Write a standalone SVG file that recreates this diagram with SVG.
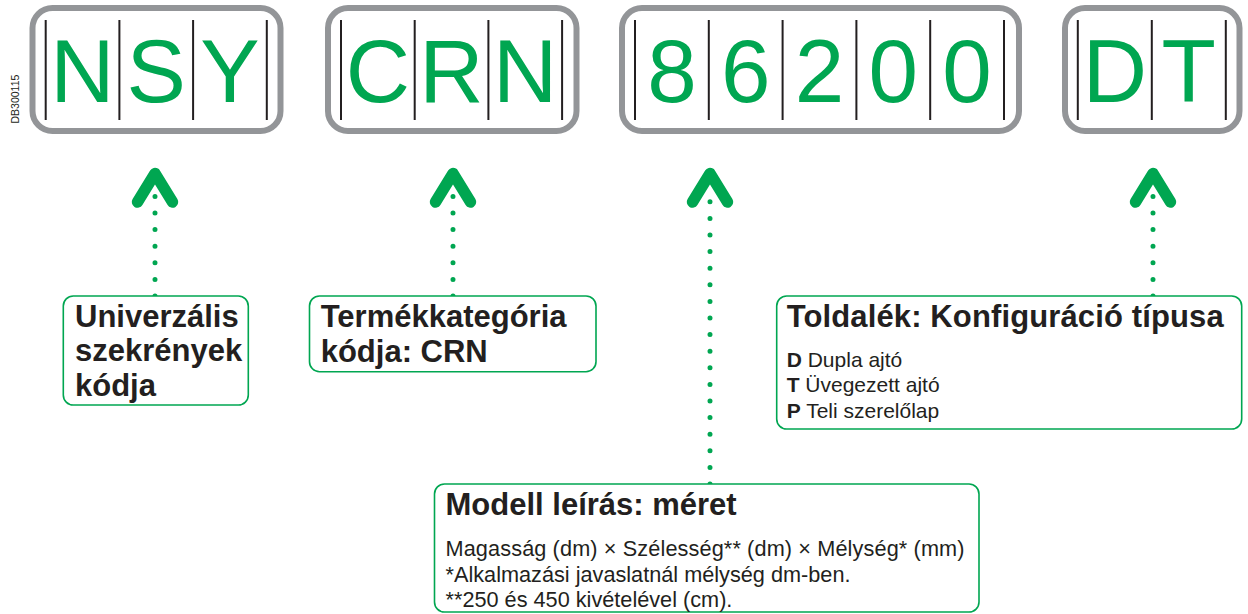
<svg xmlns="http://www.w3.org/2000/svg" width="1248" height="614" viewBox="0 0 1248 614">
<defs>
<style>
.frame{fill:none;stroke:#939598;stroke-width:6}
.sep{stroke:#231f20;stroke-width:2}
.big{font-family:"Liberation Sans",Arial,sans-serif;font-size:89px;fill:#00a651;text-anchor:middle}
.lbl{fill:#fff;stroke:#00a651;stroke-width:1.6}
.title{font-family:"Liberation Sans",Arial,sans-serif;font-size:31px;font-weight:bold;fill:#231f20}
.body{font-family:"Liberation Sans",Arial,sans-serif;font-size:21px;fill:#231f20}
.body2{font-family:"Liberation Sans",Arial,sans-serif;font-size:21.7px;fill:#231f20}
.b{font-weight:bold}
.chev{fill:none;stroke:#00a651;stroke-width:11.5;stroke-linecap:round;stroke-linejoin:round}
.dots{fill:none;stroke:#00a651;stroke-width:5;stroke-linecap:round;stroke-dasharray:0 16.6}
</style>
</defs>
<rect width="1248" height="614" fill="#fff"/>
<text transform="translate(18.5,123.5) rotate(-90)" font-family="'Liberation Sans',Arial,sans-serif" font-size="10.5" fill="#231f20">DB300115</text>

<g id="code-nsy">
<rect class="frame" x="32.5" y="8" width="248" height="123" rx="20"/>
<path class="sep" d="M45.7 20V120M119.4 20V120M193.1 20V120M266.8 20V120"/>
<text class="big" x="82.5" y="102">N</text>
<text class="big" x="156.2" y="102">S</text>
<text class="big" x="230" y="102">Y</text>
</g>
<g id="code-crn">
<rect class="frame" x="328" y="8" width="248.5" height="123" rx="20"/>
<path class="sep" d="M341 20V120M414.7 20V120M488.4 20V120M562.1 20V120"/>
<text class="big" x="377.8" y="102">C</text>
<text class="big" x="451.5" y="102">R</text>
<text class="big" x="525.2" y="102">N</text>
</g>
<g id="code-size">
<rect class="frame" x="622" y="8" width="397" height="123" rx="20"/>
<path class="sep" d="M635 20V120M708.8 20V120M782.6 20V120M856.4 20V120M930.2 20V120M1004 20V120"/>
<text class="big" x="671.9" y="102">8</text>
<text class="big" x="745.7" y="102">6</text>
<text class="big" x="819.5" y="102">2</text>
<text class="big" x="893.3" y="102">0</text>
<text class="big" x="967.1" y="102">0</text>
</g>
<g id="code-dt">
<rect class="frame" x="1065" y="8" width="174.5" height="123" rx="20"/>
<path class="sep" d="M1077.8 20V120M1151.8 20V120M1225.8 20V120"/>
<text class="big" x="1114.8" y="102">D</text>
<text class="big" x="1188.8" y="102">T</text>
</g>

<g id="connectors">
<path class="chev" d="M137.5 202L155 173.5L172.5 202"/>
<path class="chev" d="M435.5 202L453 173.5L470.5 202"/>
<path class="chev" d="M692.5 202L710 173.5L727.5 202"/>
<path class="chev" d="M1135.5 202L1153 173.5L1170.5 202"/>
<path class="dots" d="M155 296V190"/>
<path class="dots" d="M453 296V190"/>
<path class="dots" d="M710 484V190"/>
<path class="dots" d="M1153 296V190"/>
</g>

<g id="label-nsy">
<rect class="lbl" x="63.3" y="296" width="185" height="109" rx="10"/>
<text class="title" x="75" y="326.5">Univerzális</text>
<text class="title" x="75" y="361">szekrények</text>
<text class="title" x="75" y="395.5">kódja</text>
</g>
<g id="label-crn">
<rect class="lbl" x="309.5" y="296" width="286.5" height="75.7" rx="10"/>
<text class="title" x="320.7" y="326.5">Termékkategória</text>
<text class="title" x="320.7" y="361.5">kódja: CRN</text>
</g>
<g id="label-dt">
<rect class="lbl" x="776.7" y="296" width="465" height="133" rx="10"/>
<text class="title" x="786.7" y="326.7" textLength="437" lengthAdjust="spacing">Toldalék: Konfiguráció típusa</text>
<text class="body" x="786.7" y="366.5"><tspan class="b">D</tspan> Dupla ajtó</text>
<text class="body" x="786.7" y="392"><tspan class="b">T</tspan> Üvegezett ajtó</text>
<text class="body" x="786.7" y="417.5"><tspan class="b">P</tspan> Teli szerelőlap</text>
</g>
<g id="label-size">
<rect class="lbl" x="434.5" y="484" width="544.5" height="128" rx="10"/>
<text class="title" x="445.5" y="515">Modell leírás: méret</text>
<text class="body2" x="445.5" y="556" textLength="519" lengthAdjust="spacing">Magasság (dm) × Szélesség** (dm) × Mélység* (mm)</text>
<text class="body2" x="445.5" y="581.5">*Alkalmazási javaslatnál mélység dm-ben.</text>
<text class="body2" x="445.5" y="607">**250 és 450 kivételével (cm).</text>
</g>
</svg>
